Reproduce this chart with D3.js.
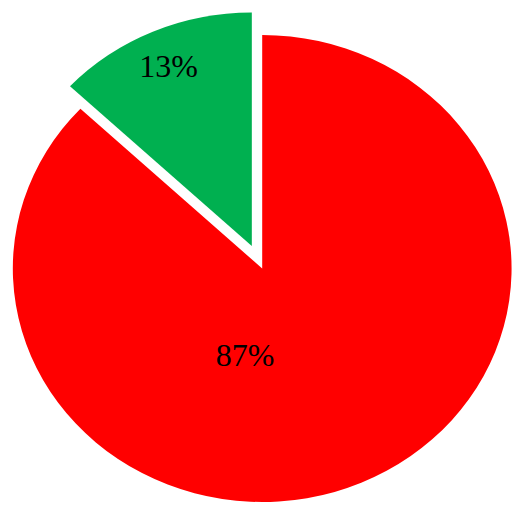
<!DOCTYPE html>
<html><head><meta charset="utf-8">
<script src="https://cdn.jsdelivr.net/npm/d3@7"></script>
<style>html,body{margin:0;padding:0;background:#fff;}svg{display:block;}</style>
</head><body>
<script>
const categories = ["A", "B"];
const values = [13, 87];
const labels = ["13%", "87%"];
const colors = ["#00B050", "#FF0000"];

const W = 512, H = 506;
const cx = 262.2, cy = 268.5, R = 233.5, sx = 1.068;
const explode = [24.5, 0];

const svg = d3.select("body").append("svg").attr("width", W).attr("height", H);

const pie = d3.pie().sort(null).value(d => d)
  .startAngle(-values[0] / 100 * 2 * Math.PI)
  .endAngle(2 * Math.PI - values[0] / 100 * 2 * Math.PI);
const arcs = pie(values);
const arc = d3.arc().innerRadius(0).outerRadius(R);

const g = svg.append("g").attr("transform", `translate(${cx},${cy}) scale(${sx},1)`);
g.selectAll("path").data(arcs).enter().append("path")
  .attr("d", arc)
  .attr("fill", (d, i) => colors[i])
  .attr("transform", (d, i) => {
    const a = (d.startAngle + d.endAngle) / 2;
    return `translate(${Math.sin(a) * explode[i]},${-Math.cos(a) * explode[i]})`;
  });

// labels
const labelArc = d3.arc().innerRadius(R * 0.84).outerRadius(R * 0.84);
const redLabelOffset = [-17, 86];
svg.selectAll("text").data(arcs).enter().append("text")
  .attr("x", (d, i) => {
    if (i === 1) return cx + redLabelOffset[0];
    const a = (d.startAngle + d.endAngle) / 2;
    return cx + (labelArc.centroid(d)[0] + Math.sin(a) * explode[i]) * sx;
  })
  .attr("y", (d, i) => {
    if (i === 1) return cy + redLabelOffset[1];
    const a = (d.startAngle + d.endAngle) / 2;
    return cy + labelArc.centroid(d)[1] - Math.cos(a) * explode[i];
  })
  .attr("text-anchor", "middle")
  .attr("dominant-baseline", "central")
  .attr("font-family", "'Liberation Serif', 'DejaVu Serif', serif")
  .attr("font-size", 32)
  .attr("fill", "#000")
  .text((d, i) => labels[i]);
</script>
</body></html>
